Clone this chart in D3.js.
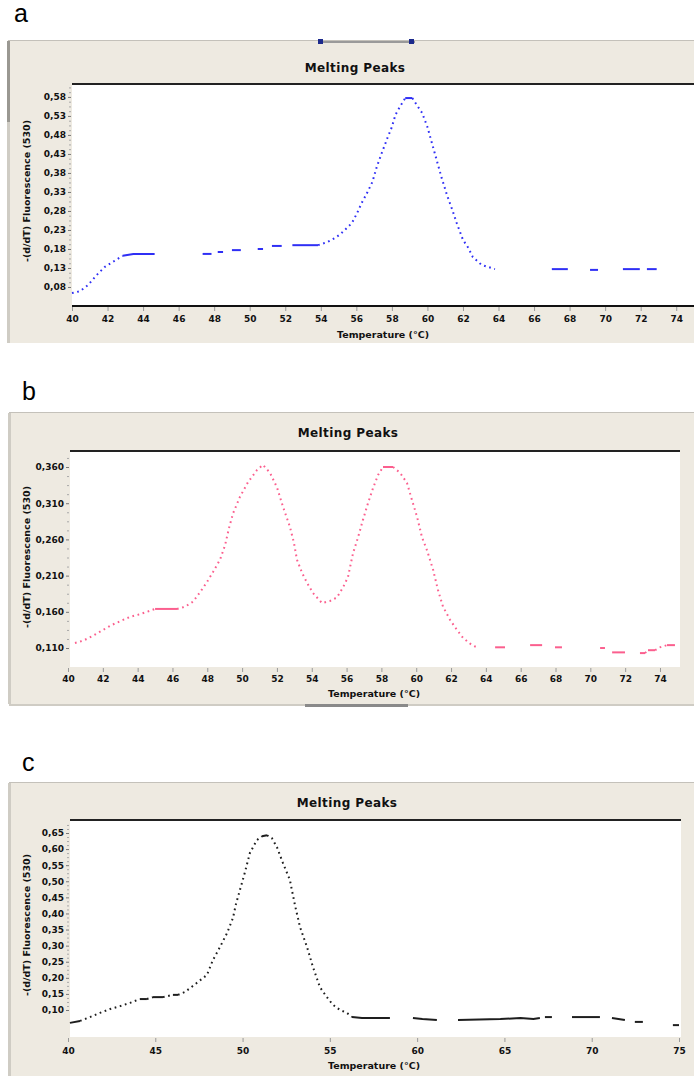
<!DOCTYPE html>
<html><head><meta charset="utf-8">
<script src="https://cdn.jsdelivr.net/npm/d3@7"></script>
<style>body{margin:0;background:#fff;} svg{display:block}</style>
</head><body>
<svg id="chart" width="694" height="1076"></svg>
<script>
// ---------- DATA ----------
const xTicksAB = [40,42,44,46,48,50,52,54,56,58,60,62,64,66,68,70,72,74];
const xTicksC = [40,45,50,55,60,65,70,75];
const yTicksA = [0.08,0.13,0.18,0.23,0.28,0.33,0.38,0.43,0.48,0.53,0.58];
const yTicksB = [0.110,0.160,0.210,0.260,0.310,0.360];
const yTicksC = [0.10,0.15,0.20,0.25,0.30,0.35,0.40,0.45,0.50,0.55,0.60,0.65];

const aTemp = [40.0,40.45,40.9,41.4,41.85,42.3,42.85,43.45,44.65,46.0,47.35,47.85,48.0,48.2,48.5,48.75,49.0,49.5,50.0,50.45,50.75,51.0,51.25,51.8,52.1,52.4,53.85,54.35,54.8,55.1,55.35,55.75,56.05,56.3,56.6,56.9,57.15,57.45,57.75,58.0,58.2,58.45,58.75,59.15,59.4,59.7,60.0,60.25,60.55,60.8,61.1,61.4,61.65,62.0,62.3,62.55,63.05,63.4,63.8,65.4,67.0,67.9,68.5,69.15,69.6,70.3,71.0,71.95,72.15,72.35,72.9];
const aVal = [0.064,0.069,0.085,0.112,0.133,0.146,0.162,0.167,0.167,null,0.167,0.167,null,0.172,0.172,null,0.177,0.177,null,0.180,0.180,null,0.188,0.188,null,0.190,0.190,0.198,0.209,0.219,0.230,0.248,0.275,0.301,0.327,0.356,0.396,0.435,0.472,0.501,0.533,0.554,0.577,0.577,0.559,0.538,0.501,0.459,0.409,0.367,0.322,0.283,0.248,0.204,0.183,0.159,0.138,0.133,0.127,null,0.127,0.127,null,0.125,0.125,null,0.127,0.127,null,0.127,0.127];

const bTemp = [40.4,40.86,41.44,42.01,42.53,42.99,43.56,44.02,44.54,45.0,45.57,46.26,46.72,47.18,47.58,47.98,48.33,48.73,49.02,49.25,49.48,49.88,50.34,50.86,51.2,51.6,52.0,52.35,52.75,52.98,53.15,53.44,53.73,54.07,54.59,55.05,55.45,55.8,56.08,56.37,56.66,56.94,57.23,57.52,57.81,58.09,58.67,59.07,59.47,59.76,60.05,60.33,60.62,60.97,61.25,61.54,61.94,62.34,62.69,63.2,63.49,64.0,64.53,65.1,65.8,66.54,67.23,67.6,67.97,68.37,69.5,70.56,70.84,71.05,71.25,71.99,72.4,72.85,73.14,73.31,73.72,74.0,74.4,74.86];
const bVal = [0.117,0.120,0.127,0.135,0.142,0.147,0.153,0.156,0.160,0.164,0.164,0.164,0.167,0.174,0.187,0.201,0.215,0.232,0.252,0.276,0.296,0.319,0.339,0.356,0.363,0.352,0.332,0.305,0.277,0.255,0.232,0.214,0.200,0.186,0.172,0.175,0.180,0.194,0.208,0.241,0.263,0.287,0.310,0.331,0.349,0.360,0.360,0.352,0.338,0.314,0.291,0.263,0.245,0.218,0.190,0.167,0.149,0.135,0.124,0.114,0.111,null,0.111,0.111,null,0.114,0.114,null,0.111,0.111,null,0.110,0.110,null,0.104,0.104,null,0.103,0.103,0.107,0.107,0.111,0.114,0.114];

const cTemp = [40.11,40.69,41.26,41.83,42.41,42.98,43.55,44.12,44.52,44.87,45.44,46.01,46.3,46.7,47.16,47.96,48.3,48.71,49.11,49.45,49.62,49.85,50.14,50.42,50.82,51.11,51.4,51.68,51.97,52.31,52.71,53.0,53.29,53.69,54.03,54.43,54.83,55.18,55.58,55.98,56.27,56.84,58.44,59.1,59.76,60.3,61.13,61.7,62.34,64.77,65.92,66.66,67.03,67.15,67.32,67.72,68.3,68.87,70.47,70.8,71.16,71.53,71.9,72.2,72.47,72.93,73.8,74.65,75.0];
const cVal = [0.060,0.066,0.078,0.091,0.103,0.112,0.122,0.134,0.134,0.140,0.140,0.147,0.147,0.156,0.175,0.209,0.255,0.296,0.339,0.386,0.429,0.473,0.529,0.588,0.628,0.640,0.643,0.634,0.606,0.557,0.504,0.426,0.358,0.296,0.234,0.171,0.140,0.116,0.100,0.091,0.078,0.075,0.075,null,0.075,0.072,0.069,null,0.069,0.072,0.075,0.072,0.075,null,0.078,0.078,null,0.078,0.078,null,0.075,0.072,0.069,null,0.063,0.063,null,0.053,0.053];

const titleText = "Melting Peaks";
const xTitle = "Temperature (°C)";
const yTitle = "-(d/dT) Fluorescence (530)";

// ---------- LAYOUT ----------
const loc = d3.formatLocale({decimal:",", thousands:".", grouping:[3], currency:["",""]});
const panels = [
  {letter:"a", lx:14, ly:22, temp:aTemp, val:aVal, color:"#2f2ff5",
   frame:[8,41,694,343], plot:[72,694,84,306], xr:[72,694], xd:[40,75], yd:[0.03,0.614],
   xt:xTicksAB, yt:yTicksA, fmt:loc.format(".2f"), tx:355, ty:72, xtx:383, xty:338, ytx:27, yty:191,
   bottomLine:true, xPad:5, topBar:true},
  {letter:"b", lx:22, ly:400, temp:bTemp, val:bVal, color:"#fb5f8e",
   frame:[9,413,694,704], plot:[70,680,451,667], xr:[68,677.4], xd:[40,75], yd:[0.0838,0.3821],
   xt:xTicksAB, yt:yTicksB, fmt:loc.format(".3f"), tx:348, ty:437, xtx:374, xty:697, ytx:27, yty:557,
   bottomLine:false, xPad:4, bottomBar:true},
  {letter:"c", lx:22, ly:771, temp:cTemp, val:cVal, color:"#1e1e1e",
   frame:[9,783,694,1076], plot:[70,681,820,1037], xr:[68,679], xd:[40,75], yd:[0.0161,0.6904],
   xt:xTicksC, yt:yTicksC, fmt:loc.format(".2f"), tx:347, ty:807, xtx:374, xty:1069, ytx:27, yty:925,
   bottomLine:false, xPad:6}
];

const svg = d3.select("#chart");
const FONT = "DejaVu Sans, Verdana, sans-serif";

panels.forEach(p => {
  const g = svg.append("g");
  const [fx0, fy0, fx1, fy1] = p.frame;
  const [pl, pr, pt, pb] = p.plot;

  g.append("text").attr("x", p.lx).attr("y", p.ly).text(p.letter)
    .attr("font-family", "Liberation Sans, Arial, sans-serif").attr("font-size", 25).attr("fill", "#000");

  g.append("rect").attr("x", fx0).attr("y", fy0).attr("width", fx1 - fx0).attr("height", fy1 - fy0).attr("fill", "#eeeae1");
  g.append("line").attr("x1", fx0).attr("x2", fx1).attr("y1", fy0 - 0.5).attr("y2", fy0 - 0.5).attr("stroke", "#c4c1ba");
  g.append("rect").attr("x", fx0 - 1).attr("y", fy0).attr("width", 3).attr("height", fy1 - fy0).attr("fill", "#cfccc4");
  if (p.topBar) {
    g.append("rect").attr("x", fx0 - 1).attr("y", fy0).attr("width", 3).attr("height", 81).attr("fill", "#9a9892");
    g.append("rect").attr("x", 318).attr("y", 41).attr("width", 97).attr("height", 2).attr("fill", "#9a9a9a");
    g.append("rect").attr("x", 318).attr("y", 39).attr("width", 5).attr("height", 5).attr("fill", "#1c2a8c");
    g.append("rect").attr("x", 409).attr("y", 39).attr("width", 5).attr("height", 5).attr("fill", "#1c2a8c");
  }
  if (p.bottomBar) {
    g.append("rect").attr("x", fx0).attr("y", fy1).attr("width", fx1 - fx0).attr("height", 2).attr("fill", "#cfccc4");
    g.append("rect").attr("x", 305).attr("y", fy1).attr("width", 103).attr("height", 3).attr("fill", "#8a8a8a");
  }

  g.append("text").attr("x", p.tx).attr("y", p.ty).attr("text-anchor", "middle").text(titleText)
    .attr("font-family", FONT).attr("font-weight", "bold").attr("font-size", 12).attr("letter-spacing", 0.4).attr("fill", "#111");

  g.append("rect").attr("x", pl).attr("y", pt).attr("width", pr - pl).attr("height", pb - pt).attr("fill", "#fff");
  g.append("line").attr("x1", pl).attr("x2", pr).attr("y1", pt).attr("y2", pt).attr("stroke", "#222").attr("stroke-width", 2);
  if (p.bottomLine)
    g.append("line").attr("x1", pl).attr("x2", pr).attr("y1", pb).attr("y2", pb).attr("stroke", "#111").attr("stroke-width", 2);

  const x = d3.scaleLinear().domain(p.xd).range(p.xr);
  const y = d3.scaleLinear().domain(p.yd).range([pb, pt]);

  const step = p.yt[1] - p.yt[0];
  const minor = [];
  p.yt.forEach(v => { for (let k = 1; k < 4; k++) { const m = v + k * step / 4; if (y(m) > pt + 2) minor.push(m); } });
  const ym = g.append("g").attr("transform", `translate(${pl - 1},0)`)
    .call(d3.axisLeft(y).tickValues(minor).tickSize(2).tickFormat(""));
  ym.select(".domain").remove();
  ym.selectAll("line").attr("stroke", "#a8a8a8");
  const ya = g.append("g").attr("transform", `translate(${pl - 1},0)`)
    .call(d3.axisLeft(y).tickValues(p.yt).tickSize(3).tickPadding(2).tickFormat(p.fmt));
  ya.select(".domain").remove();
  ya.selectAll("line").attr("stroke", "#777");
  ya.selectAll("text").attr("font-family", FONT).attr("font-weight", "bold").attr("font-size", 9).attr("fill", "#111");

  const xa = g.append("g").attr("transform", `translate(0,${pb + 1})`)
    .call(d3.axisBottom(x).tickValues(p.xt).tickSize(4).tickPadding(p.xPad).tickFormat(d3.format("d")));
  xa.select(".domain").remove();
  xa.selectAll("line").attr("stroke", "#999");
  xa.selectAll("text").attr("font-family", FONT).attr("font-weight", "bold").attr("font-size", 9).attr("fill", "#111");

  g.append("text").attr("x", p.xtx).attr("y", p.xty).attr("text-anchor", "middle").text(xTitle)
    .attr("font-family", FONT).attr("font-weight", "bold").attr("font-size", 9.5).attr("fill", "#111");
  g.append("text").attr("transform", `translate(${p.ytx},${p.yty}) rotate(-90)`).attr("text-anchor", "middle")
    .attr("dy", "0.35em").text(yTitle)
    .attr("font-family", FONT).attr("font-weight", "bold").attr("font-size", 9.5).attr("fill", "#111");

  // curve: flat runs solid, steep runs dotted
  const pts = p.temp.map((t, i) => ({t, v: p.val[i]}));
  const runs = [];
  let cur = null;
  for (let i = 0; i < pts.length - 1; i++) {
    const a = pts[i], b = pts[i + 1];
    if (a.v == null || b.v == null) { cur = null; continue; }
    const dx = x(b.t) - x(a.t), dy = y(b.v) - y(a.v);
    const flat = Math.abs(dy) <= 0.22 * Math.abs(dx);
    if (cur && cur.flat === flat && cur.end === i) { cur.pts.push(b); cur.end = i + 1; }
    else { cur = {flat, pts: [a, b], end: i + 1}; runs.push(cur); }
  }
  const line = d3.line().x(d => x(d.t)).y(d => y(d.v));
  g.selectAll("path.run").data(runs).join("path").attr("class", "run")
    .attr("d", r => line(r.pts)).attr("fill", "none").attr("stroke", p.color)
    .attr("stroke-width", 2)
    .attr("stroke-dasharray", r => r.flat ? null : "1.7,3.6");
});
</script>
</body></html>
